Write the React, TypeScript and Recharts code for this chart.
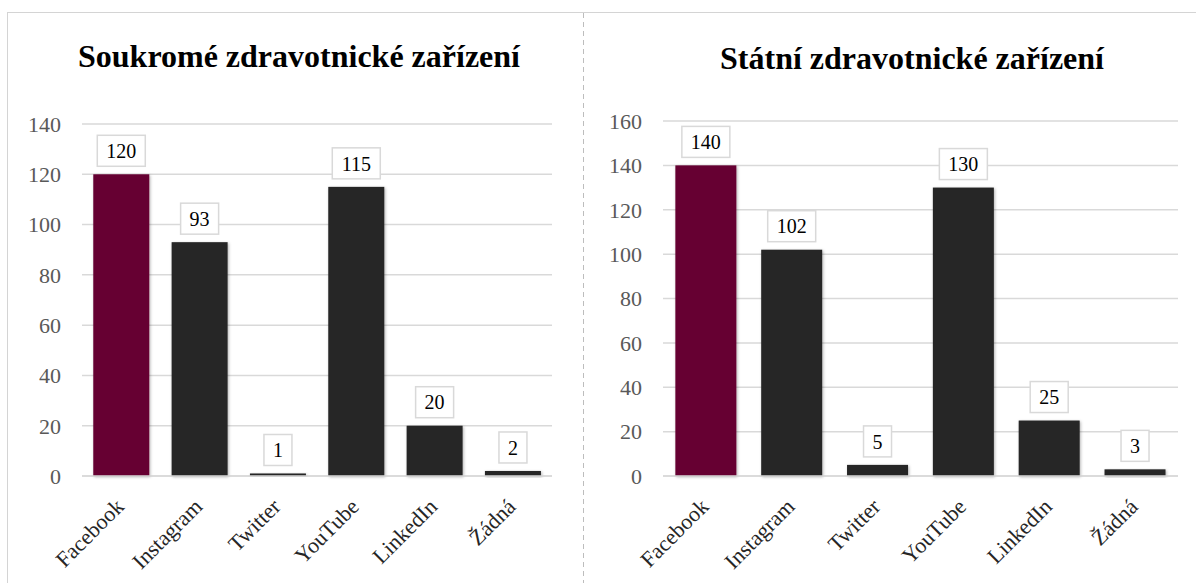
import React from 'react';
import { BarChart, Bar, XAxis, YAxis, CartesianGrid, Cell, LabelList } from 'recharts';

const categories = ['Facebook', 'Instagram', 'Twitter', 'YouTube', 'LinkedIn', 'Žádná'];
const privateValues = [120, 93, 1, 115, 20, 2];
const stateValues = [140, 102, 5, 130, 25, 3];
const privateTicks = [0, 20, 40, 60, 80, 100, 120, 140];
const stateTicks = [0, 20, 40, 60, 80, 100, 120, 140, 160];
const privateTitle = 'Soukromé zdravotnické zařízení';
const stateTitle = 'Státní zdravotnické zařízení';

const FONT = '"Liberation Serif", "Times New Roman", serif';
const HIGHLIGHT = '#660033';
const DARK = '#262626';

const privateData = categories.map((name, i) => ({ name, value: privateValues[i] }));
const stateData = categories.map((name, i) => ({ name, value: stateValues[i] }));

const XTick = (props: any) => {
  const { x, y, payload } = props;
  return (
    <text
      transform={`translate(${x + 4},${y + 32}) rotate(-45)`}
      textAnchor="end"
      fontSize={22}
      fontFamily={FONT}
      fill="#262626"
    >
      {payload.value}
    </text>
  );
};

const BoxLabel = (props: any) => {
  const { x, y, width, value } = props;
  const s = String(value);
  const tw = s.length * 10;
  const bw = tw + 18;
  const bh = 31;
  const cx = x + width / 2;
  const bottom = y - 8;
  return (
    <g>
      <rect x={cx - bw / 2} y={bottom - bh} width={bw} height={bh} fill="#ffffff" stroke="#d9d9d9" strokeWidth={1.5} />
      <text x={cx} y={bottom - bh / 2} dy="0.36em" textAnchor="middle" fontSize={20} fontFamily={FONT} fill="#000">
        {s}
      </text>
    </g>
  );
};

const ShadowBar = (props: any) => {
  const { x, y, width, height, fill } = props;
  if (height <= 0) return null;
  return <rect x={x} y={y} width={width} height={height} fill={fill} filter="url(#barShadow)" />;
};

type PanelProps = {
  data: { name: string; value: number }[];
  ticks: number[];
  width: number;
  top: number;
  bottomAxis: number;
  yWidth: number;
  right: number;
  id: string;
};

const Panel = ({ data, ticks, width, top, bottomAxis, yWidth, right, id }: PanelProps) => (
  <BarChart
    width={width}
    height={583}
    data={data}
    margin={{ top, right, bottom: 0, left: 0 }}
    barCategoryGap="14.4%"
  >
    <defs>
      <filter id="barShadow" x="-20%" y="-20%" width="140%" height="140%">
        <feDropShadow dx="1" dy="1" stdDeviation="1.5" floodColor="#000" floodOpacity="0.3" />
      </filter>
    </defs>
    <CartesianGrid horizontal vertical={false} stroke="#d9d9d9" strokeWidth={1.5} />
    <XAxis
      dataKey="name"
      height={583 - bottomAxis}
      tickSize={0}
      tickMargin={0}
      tickLine={false}
      axisLine={{ stroke: '#d9d9d9', strokeWidth: 1.5 }}
      tick={<XTick />}
      interval={0}
    />
    <YAxis
      width={yWidth}
      domain={[0, ticks[ticks.length - 1]]}
      ticks={ticks}
      interval={0}
      axisLine={false}
      tickLine={false}
      tickMargin={15}
      tick={{ fill: '#595959', fontSize: 22, fontFamily: FONT }}
    />
    <Bar dataKey="value" isAnimationActive={false} shape={<ShadowBar />}>
      {data.map((d, i) => (
        <Cell key={`${id}-${i}`} fill={i === 0 ? HIGHLIGHT : DARK} />
      ))}
      <LabelList dataKey="value" content={<BoxLabel />} />
    </Bar>
  </BarChart>
);

export default function App() {
  return (
    <div
      style={{
        position: 'absolute',
        left: 0,
        top: 0,
        width: 1196,
        height: 583,
        overflow: 'hidden',
        background: '#ffffff',
        fontFamily: FONT,
      }}
    >
      <div
        style={{
          position: 'absolute',
          left: 7,
          top: 12,
          width: 1300,
          height: 700,
          border: '1.5px solid #d4d4d4',
          boxSizing: 'border-box',
        }}
      />
      <svg width={1196} height={583} style={{ position: 'absolute', left: 0, top: 0 }}>
        <line x1={583.5} y1={13} x2={583.5} y2={583} stroke="#bdbdbd" strokeWidth={1} strokeDasharray="5 4" />
        <text x={299} y={67} textAnchor="middle" fontSize={32} fontWeight="bold" fontFamily={FONT} fill="#000">
          {privateTitle}
        </text>
        <text x={912} y={69} textAnchor="middle" fontSize={32} fontWeight="bold" fontFamily={FONT} fill="#000">
          {stateTitle}
        </text>
      </svg>
      <div style={{ position: 'absolute', left: 0, top: 0 }}>
        <Panel data={privateData} ticks={privateTicks} width={583} top={124} bottomAxis={476} yWidth={82} right={31} id="p" />
      </div>
      <div style={{ position: 'absolute', left: 583, top: 0 }}>
        <Panel data={stateData} ticks={stateTicks} width={613} top={121} bottomAxis={476} yWidth={80} right={18} id="s" />
      </div>
    </div>
  );
}
